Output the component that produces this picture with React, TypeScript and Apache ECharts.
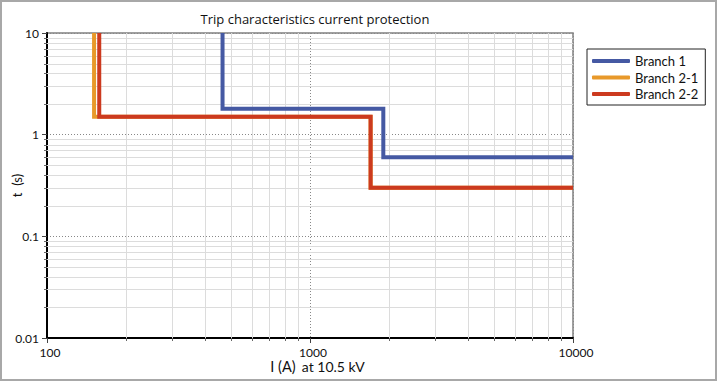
import React, { useEffect, useRef } from "react";
import * as echarts from "echarts";

const titleText = "Trip characteristics current protection";
const seriesNames = ["Branch 1", "Branch 2-1", "Branch 2-2"];
const seriesColors = ["#4559a3", "#e8992a", "#cc3a1f"];
// step curves: [current (A), time (s)]
const branch1 = [[465, 10], [465, 1.8], [1900, 1.8], [1900, 0.6], [10000, 0.6]];
const branch21 = [[151, 10], [151, 1.5], [1700, 1.5], [1700, 0.3], [10000, 0.3]];
const branch22 = [[158, 10], [158, 1.5], [1700, 1.5], [1700, 0.3], [10000, 0.3]];
const xDecades = [100, 1000];
const yDecades = [0.01, 0.1, 1];
const minorMultipliers = [2, 3, 4, 5, 6, 7, 8, 9];

const FONT = "Lato, 'Open Sans', sans-serif";
const TITLE_FONT = "'Open Sans', Lato, sans-serif";

export default function App() {
  const ref = useRef<HTMLDivElement>(null);
  useEffect(() => {
    document.body.style.margin = "0";
    const chart = echarts.init(ref.current!, null, { renderer: "svg" });
    const minorData: number[][] = [];
    xDecades.forEach((d) => minorMultipliers.forEach((m) => minorData.push([d * m, 1, 0])));
    yDecades.forEach((d) => minorMultipliers.forEach((m) => minorData.push([1000, d * m, 1])));

    const lineSeries = [branch1, branch21, branch22].map((data, i) => ({
      name: seriesNames[i],
      type: "line",
      data,
      symbol: "none",
      showSymbol: false,
      lineStyle: { color: seriesColors[i], width: 4, join: "miter" },
      itemStyle: { color: seriesColors[i] },
      z: 5 + i,
    }));

    chart.setOption({
      animation: false,
      textStyle: { fontFamily: FONT },
      title: {
        text: titleText,
        left: 310,
        top: 7,
        textAlign: "center",
        textStyle: { fontSize: 13, fontWeight: "normal", color: "#111", fontFamily: TITLE_FONT },
      },
      graphic: [
        {
          type: "rect",
          shape: { x: 1, y: 1, width: 715, height: 379 },
          style: { fill: "none", stroke: "#a8a8a8", lineWidth: 2 },
          silent: true,
        },
      ],
      legend: {
        orient: "vertical",
        left: 587,
        top: 49,
        data: seriesNames.map((n) => ({ name: n, icon: "roundRect" })),
        itemWidth: 38,
        itemHeight: 4,
        itemGap: 2.5,
        padding: [5, 7, 4, 5],
        borderColor: "#222",
        borderWidth: 1,
        textStyle: { fontSize: 13, lineHeight: 14, color: "#111", fontFamily: FONT },
      },
      grid: {
        left: 47,
        right: 144,
        top: 33,
        bottom: 43,
        containLabel: false,
        outerBoundsMode: "none",
        show: true,
        borderColor: "#808080",
        borderWidth: 1.5,
        backgroundColor: "#fff",
      },
      xAxis: {
        type: "log",
        logBase: 10,
        min: 100,
        max: 10000,
        name: "{a|I (A)}  {b|at 10.5 kV}",
        nameLocation: "middle",
        nameGap: 21,
        nameMoveOverlap: false,
        nameTextStyle: {
          padding: [0, 0, 0, 15],
          rich: {
            a: { fontSize: 14.5, color: "#111", fontFamily: FONT },
            b: { fontSize: 14, color: "#111", fontFamily: FONT },
          },
        },
        axisLine: { show: true, lineStyle: { color: "#000", width: 2 } },
        axisTick: { show: true, length: 5, lineStyle: { color: "#444" } },
        axisLabel: {
          fontSize: 12,
          color: "#111",
          margin: 8,
          padding: [0, 0, 0, 6],
          fontFamily: FONT,
          formatter: (v: number) => String(Math.round(v)),
        },
        splitLine: { show: true, lineStyle: { color: "#888", type: [1, 2], width: 1 } },
      },
      yAxis: {
        type: "log",
        logBase: 10,
        min: 0.01,
        max: 10,
        name: "t  (s)",
        nameLocation: "middle",
        nameGap: 24,
        nameMoveOverlap: false,
        nameTextStyle: { fontSize: 13, color: "#111", fontFamily: FONT },
        axisLine: { show: true, lineStyle: { color: "#000", width: 2 } },
        axisTick: { show: true, length: 5, lineStyle: { color: "#444" } },
        axisLabel: { fontSize: 12, color: "#111", margin: 8, fontFamily: FONT },
        splitLine: { show: true, lineStyle: { color: "#888", type: [1, 2], width: 1 } },
      },
      series: [
        {
          type: "custom",
          silent: true,
          clip: false,
          z: 1,
          data: minorData,
          encode: { x: 0, y: 1 },
          renderItem: (params: any, api: any) => {
            const cs = params.coordSys;
            const kind = api.value(2);
            const p = api.coord([api.value(0), api.value(1)]);
            if (kind === 0) {
              const x = Math.round(p[0]) + 0.5;
              const yb = cs.y + cs.height;
              return {
                type: "group",
                children: [
                  { type: "line", shape: { x1: x, y1: cs.y, x2: x, y2: yb }, style: { stroke: "#dcdcdc", lineWidth: 1 } },
                  { type: "line", shape: { x1: x, y1: yb, x2: x, y2: yb + 3 }, style: { stroke: "#666", lineWidth: 1 } },
                ],
              };
            }
            const y = Math.round(p[1]) + 0.5;
            return {
              type: "group",
              children: [
                { type: "line", shape: { x1: cs.x, y1: y, x2: cs.x + cs.width, y2: y }, style: { stroke: "#dcdcdc", lineWidth: 1 } },
                { type: "line", shape: { x1: cs.x - 3, y1: y, x2: cs.x, y2: y }, style: { stroke: "#666", lineWidth: 1 } },
              ],
            };
          },
        },
        ...lineSeries,
      ],
    });
    return () => chart.dispose();
  }, []);
  return <div ref={ref} style={{ width: 717, height: 381, position: "absolute", left: 0, top: 0 }} />;
}
